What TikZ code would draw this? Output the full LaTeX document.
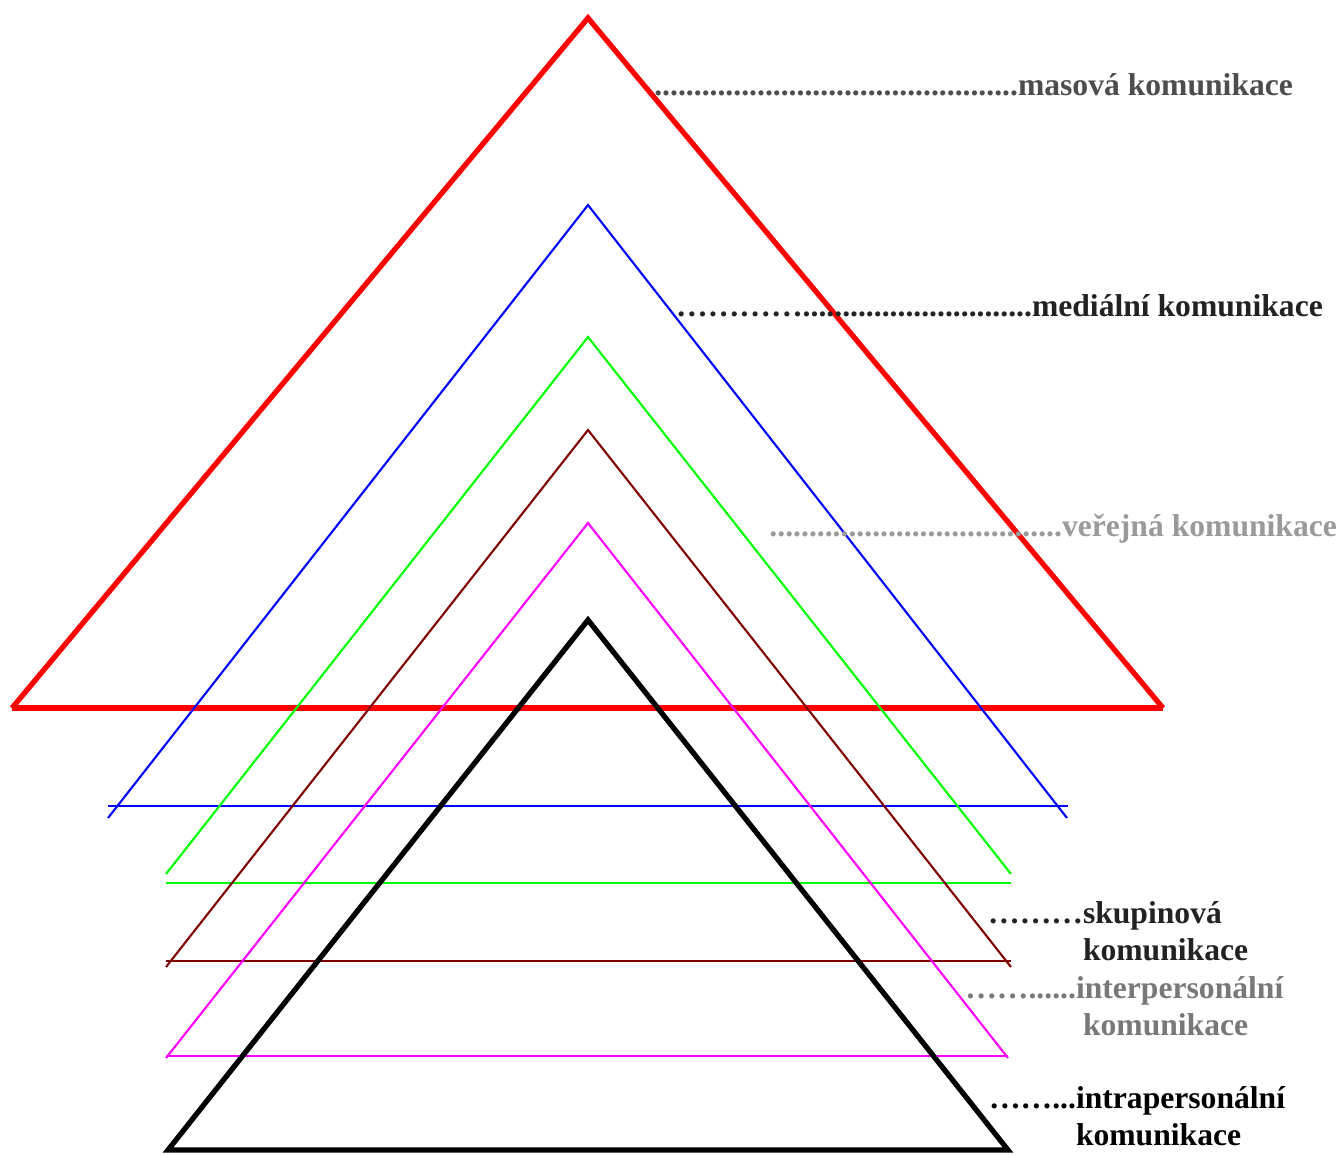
\documentclass[tikz,border=0pt]{standalone}
\usepackage{fontspec}
\setmainfont{Liberation Serif}
\usepackage{tikz}
\usetikzlibrary{positioning}

\definecolor{masgray}{HTML}{4D4D4D}
\definecolor{medgray}{HTML}{222222}
\definecolor{pubgray}{HTML}{9A9A9A}
\definecolor{intergray}{HTML}{787878}
\definecolor{redline}{HTML}{FF0000}
\definecolor{blueline}{HTML}{0000FF}
\definecolor{greenline}{HTML}{00FF00}
\definecolor{maroonline}{HTML}{800000}
\definecolor{magentaline}{HTML}{FF00FF}

\newcommand{\leaderdots}[1]{\foreach \i in {1,...,#1}{.}}

\tikzset{
    lbl/.style={inner sep=0pt, outer sep=0pt, font=\bfseries\fontsize{18}{21.6}\selectfont},
    leader/.style={lbl, anchor=base east},
    word/.style={lbl, anchor=base west},
    thickline/.style={line width=3pt},
    thinline/.style={line width=1.2pt},
}

\begin{document}
\begin{tikzpicture}[x=0.02cm, y=-0.02cm]
            \useasboundingbox (0,0) rectangle (1343,1154);

            % triangles, biggest first
            \draw [redline, thickline] (12,708) -- (588,18) -- (1163,708);
            \draw [redline, thickline] (12,708) -- (1163,708);

            \draw [blueline, thinline] (108,818) -- (588,205) -- (1067,818);
            \draw [blueline, thinline] (108,806) -- (1068,806);

            \draw [greenline, thinline] (166,874) -- (588,337) -- (1011,874);
            \draw [greenline, thinline] (166,883) -- (1011,883);

            \draw [maroonline, thinline] (166,967) -- (588,430) -- (1011,967);
            \draw [maroonline, thinline] (166,961) -- (1011,961);

            \draw [magentaline, thinline] (166,1058) -- (588,523) -- (1008,1058);
            \draw [magentaline, thinline] (166,1056) -- (1008,1056);

            \draw [black, thickline, line join=miter] (168,1150) -- (588,620) -- (1008,1150) -- cycle;

            % labels
            \node [word, masgray] (masova) at (1018,95) {masová komunikace};
            \node [leader, masgray] (masovadots) at (masova.base west) {\leaderdots{46}};

            \node [word, medgray] (medialni) at (1032,316) {mediální komunikace};
            \node [leader, medgray] (medialnidots) at (medialni.base west) {…………\leaderdots{29}};

            \node [word, pubgray] (verejna) at (1062,536) {veřejná komunikace};
            \node [leader, pubgray] (verejnadots) at (verejna.base west) {\leaderdots{37}};

            \node [word, medgray] (skupinova) at (1083,923) {skupinová};
            \node [leader, medgray] (skupinovadots) at (skupinova.base west) {………};
            \node [word, medgray] (skupinova2) at ([yshift=-21.6pt]skupinova.base west) {komunikace};

            \node [word, intergray] (inter) at (1076,998) {interpersonální};
            \node [leader, intergray] (interdots) at (inter.base west) {……\leaderdots{6}};
            \node [word, intergray] (inter2) at ([xshift=4pt, yshift=-21.6pt]inter.base west) {komunikace};

            \node [word, black] (intra) at (1076,1108) {intrapersonální};
            \node [leader, black] (intradots) at (intra.base west) {……\leaderdots{3}};
            \node [word, black] (intra2) at ([yshift=-21.6pt]intra.base west) {komunikace};
\end{tikzpicture}
\end{document}
